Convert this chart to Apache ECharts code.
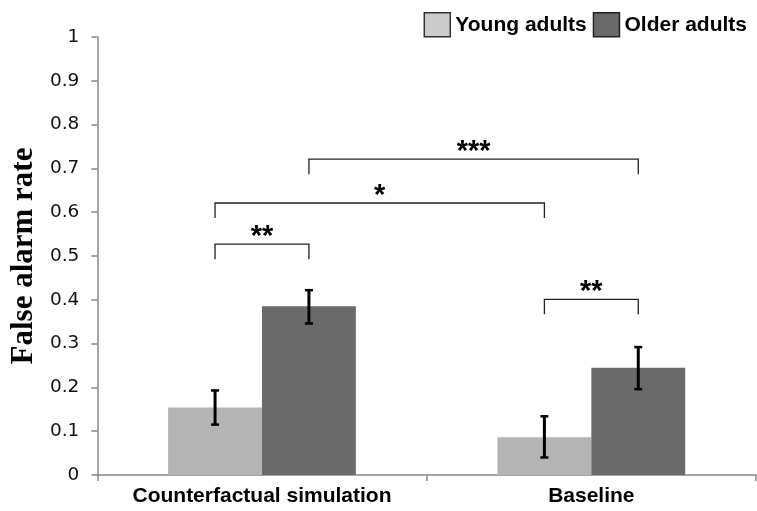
<!DOCTYPE html>
<html>
<head>
<meta charset="utf-8">
<script src="https://cdn.jsdelivr.net/npm/echarts@6/dist/echarts.min.js"></script>
<style>html,body{margin:0;padding:0;background:#fff}#c{width:757px;height:511px}</style>
</head>
<body>
<div id="c"></div>
<script>
// ---- data ----
const categories = ['Counterfactual simulation', 'Baseline'];
const seriesNames = ['Young adults', 'Older adults'];
const youngValues = [0.154, 0.086];
const olderValues = [0.385, 0.245];
const youngErrLow = [0.115, 0.040];
const youngErrHigh = [0.193, 0.134];
const olderErrLow = [0.346, 0.196];
const olderErrHigh = [0.422, 0.292];
const yTicks = [0, 0.1, 0.2, 0.3, 0.4, 0.5, 0.6, 0.7, 0.8, 0.9, 1];
// brackets: [fromCategory, fromSeries, toCategory, toSeries, level]
const bracketFrom = [[0, 0], [0, 0], [0, 1], [1, 0]];
const bracketTo   = [[0, 1], [1, 0], [1, 1], [1, 1]];
const bracketLevel = [0.527, 0.621, 0.721, 0.401];
const bracketLabels = ['**', '*', '***', '**'];

// ---- chart ----
const chart = echarts.init(document.getElementById('c'), null, {renderer: 'canvas'});
const CAT_GAP = 0.43;
function barOffset(api, s) {
  const band = api.size([1, 0])[0];
  const bw = band * (1 - CAT_GAP) / 2;
  return (s === 0 ? -bw / 2 : bw / 2);
}
function errSeries(name, s, lows, highs) {
  return {
    type: 'custom', name: name + ' err', z: 5, silent: true,
    data: categories.map((c, i) => [i, lows[i], highs[i]]),
    renderItem: function (params, api) {
      const x = api.value(0);
      const lo = api.coord([x, api.value(1)]);
      const hi = api.coord([x, api.value(2)]);
      const cx = lo[0] + barOffset(api, s);
      const cap = 4;
      return {type: 'group', children: [
        {type: 'line', shape: {x1: cx, y1: lo[1], x2: cx, y2: hi[1]}, style: {stroke: '#000', lineWidth: 3}},
        {type: 'line', shape: {x1: cx - cap, y1: lo[1], x2: cx + cap, y2: lo[1]}, style: {stroke: '#000', lineWidth: 2.5}},
        {type: 'line', shape: {x1: cx - cap, y1: hi[1], x2: cx + cap, y2: hi[1]}, style: {stroke: '#000', lineWidth: 2.5}}
      ]};
    }
  };
}
const bracketData = bracketLevel.map((lv, i) => [bracketFrom[i][0], bracketFrom[i][1], bracketTo[i][0], bracketTo[i][1], lv, i]);
const option = {
  animation: false,
  backgroundColor: '#fff',
  grid: {left: 95, right: 1, top: 37, bottom: 36, containLabel: false},
  legend: {
    right: 5, top: 7, itemWidth: 26, itemHeight: 24, itemGap: 6, icon: 'rect',
    textStyle: {fontFamily: 'Liberation Sans', fontWeight: 'bold', fontSize: 21, color: '#000'},
    data: [
      {name: seriesNames[0], itemStyle: {color: '#cbcbcb', borderColor: '#333', borderWidth: 1.5}},
      {name: seriesNames[1], itemStyle: {color: '#6a6a6a', borderColor: '#222', borderWidth: 1.5}}
    ]
  },
  xAxis: {
    type: 'category', data: categories,
    axisLine: {lineStyle: {color: '#888', width: 1.5}},
    axisTick: {show: true, alignWithLabel: false, length: 6, lineStyle: {color: '#888', width: 1.5}},
    axisLabel: {interval: 0, margin: 11, fontFamily: 'Liberation Sans', fontWeight: 'bold', fontSize: 21, color: '#000'}
  },
  yAxis: {
    type: 'value', min: 0, max: 1, interval: 0.1,
    name: 'False alarm rate', nameLocation: 'middle', nameGap: 58,
    nameTextStyle: {fontFamily: 'Liberation Serif', fontWeight: 'bold', fontSize: 31, color: '#000'},
    axisLine: {show: true, lineStyle: {color: '#888', width: 1.5}},
    axisTick: {show: true, length: 6, lineStyle: {color: '#888', width: 1.5}},
    splitLine: {show: false},
    axisLabel: {margin: 18, fontFamily: 'DejaVu Sans', fontSize: 18.5, color: '#111',
      formatter: v => { const t = yTicks.find(k => Math.abs(k - v) < 1e-9); return t === undefined ? '' : String(t); }}
  },
  series: [
    {type: 'bar', name: seriesNames[0], data: youngValues, barGap: '0%', barCategoryGap: (CAT_GAP * 100) + '%', itemStyle: {color: '#b4b4b4'}},
    {type: 'bar', name: seriesNames[1], data: olderValues, barGap: '0%', barCategoryGap: (CAT_GAP * 100) + '%', itemStyle: {color: '#6a6a6a'}},
    errSeries(seriesNames[0], 0, youngErrLow, youngErrHigh),
    errSeries(seriesNames[1], 1, olderErrLow, olderErrHigh),
    {
      type: 'custom', name: 'brackets', z: 6, silent: true,
      data: bracketData,
      renderItem: function (params, api) {
        const a = api.coord([api.value(0), api.value(4)]);
        const b = api.coord([api.value(2), api.value(4)]);
        const x1 = a[0] + barOffset(api, api.value(1));
        const x2 = b[0] + barOffset(api, api.value(3));
        const y = a[1];
        const drop = 15;
        const lbl = bracketLabels[api.value(5)];
        return {type: 'group', children: [
          {type: 'polyline', shape: {points: [[x1, y + drop], [x1, y], [x2, y], [x2, y + drop]]},
           style: {stroke: '#222', lineWidth: 1.3, fill: null}},
          {type: 'text', x: (x1 + x2) / 2, y: y - 7,
           style: {text: lbl, fill: '#000', fontFamily: 'Liberation Sans', fontWeight: 'bold', fontSize: 29, align: 'center', verticalAlign: 'middle'}}
        ]};
      }
    }
  ]
};
chart.setOption(option);
</script>
</body>
</html>
